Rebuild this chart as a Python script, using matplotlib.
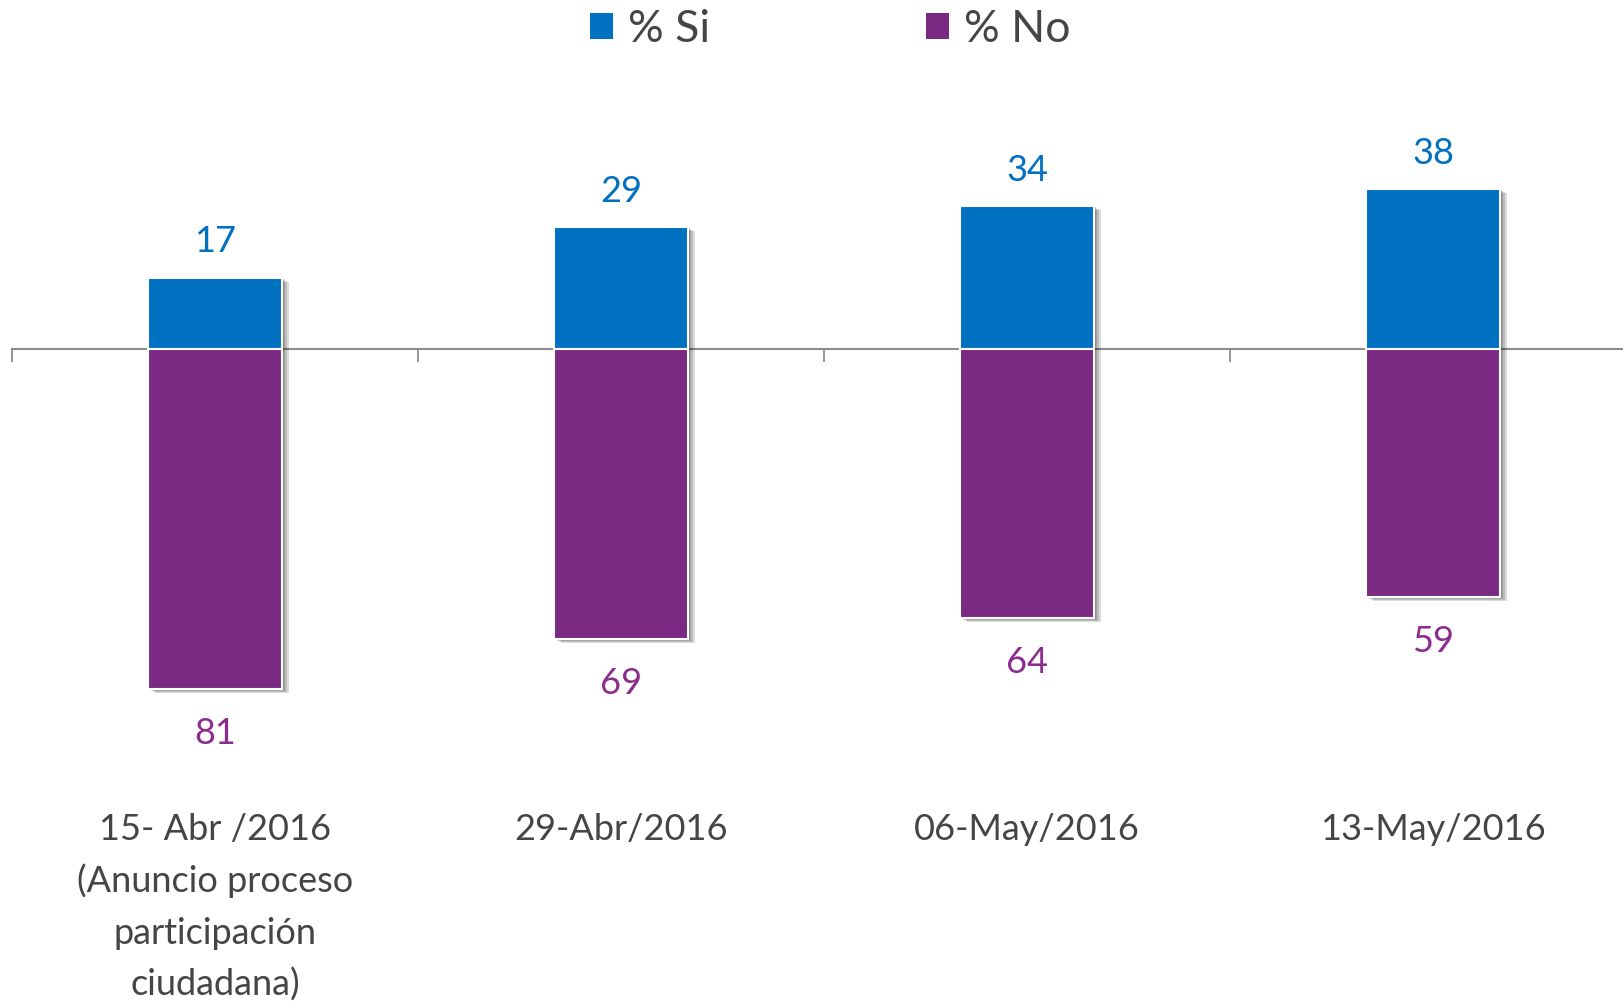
import matplotlib
matplotlib.use("Agg")
import matplotlib.pyplot as plt
import matplotlib.patheffects as pe
from matplotlib.patches import Patch

categories = ["15- Abr /2016\n(Anuncio proceso\nparticipación\nciudadana)",
              "29-Abr/2016", "06-May/2016", "13-May/2016"]
si_values = [17, 29, 34, 38]
no_values = [81, 69, 64, 59]
legend_labels = ["% Si", "% No"]

BLUE = "#0070C0"
PURPLE = "#7B2A84"
PURPLE_TXT = "#8B2C8E"
GRAY_TXT = "#454545"
FONT = "Lato"

W, H = 1623, 1001
fig = plt.figure(figsize=(W / 100, H / 100), dpi=100)
ax = fig.add_axes([12 / W, 0, 1624 / W, 1])

px_per_unit = 4.2
zero_px = 349
ax.set_ylim(-(H - zero_px) / px_per_unit, zero_px / px_per_unit)
ax.set_xlim(-0.5, len(categories) - 0.5)

shadow = [pe.SimplePatchShadow(offset=(o, -o * 0.6), shadow_rgbFace="black", alpha=0.14)
          for o in (1.2, 2.4, 3.6, 4.8)] + [pe.Normal()]

x = list(range(len(categories)))
bw = 0.33
b1 = ax.bar(x, si_values, width=bw, color=BLUE, edgecolor="white", linewidth=1.5, zorder=3)
b2 = ax.bar(x, [-v for v in no_values], width=bw, color=PURPLE, edgecolor="white", linewidth=1.5, zorder=3)
for r in list(b1) + list(b2):
    r.set_path_effects(shadow)

# axis line & ticks
for s in ["top", "right", "left"]:
    ax.spines[s].set_visible(False)
ax.spines["bottom"].set_position(("data", 0))
ax.spines["bottom"].set_color("#8C8C8C")
ax.spines["bottom"].set_linewidth(1.5)
ax.spines["bottom"].set_zorder(2)
ax.set_yticks([])
ax.set_xticks([])
ax.set_xticks([i - 0.5 for i in range(len(categories))], minor=True)
ax.tick_params(axis="x", which="minor", direction="out", length=9.5, width=1.3, color="#8C8C8C")
ax.tick_params(axis="x", which="minor", labelbottom=False)

for xi, v in zip(x, si_values):
    ax.annotate(f"{v}", (xi, v), xytext=(0, 18.5), textcoords="offset points",
                ha="center", va="baseline", fontsize=26, color=BLUE, family=FONT)
for xi, v in zip(x, no_values):
    ax.annotate(f"{v}", (xi, -v), xytext=(0, -39.5), textcoords="offset points",
                ha="center", va="baseline", fontsize=26, color=PURPLE_TXT, family=FONT)

trans = ax.get_xaxis_transform()
line_gap = 52
for xi, lab in zip(x, categories):
    for j, line in enumerate(lab.split("\n")):
        ax.text(xi, (H - 840 - j * line_gap) / H, line, transform=trans, ha="center",
                va="baseline", fontsize=26, color=GRAY_TXT, family=FONT)

handles = [Patch(facecolor=BLUE), Patch(facecolor=PURPLE)]
leg = fig.legend(handles, legend_labels, loc="upper left", bbox_to_anchor=(590 / W, 1 - 9 / H),
                 ncol=2, frameon=False, handlelength=0.52, handleheight=0.52,
                 handletextpad=0.34, columnspacing=4.85, borderpad=0, borderaxespad=0,
                 prop={"family": FONT, "size": 32})
for t in leg.get_texts():
    t.set_color(GRAY_TXT)

fig.savefig("out.png", dpi=100)
